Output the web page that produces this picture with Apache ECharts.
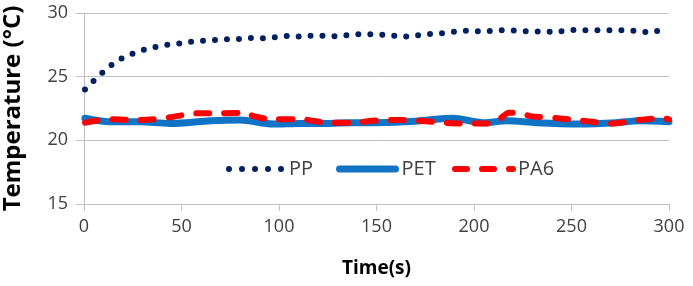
<!DOCTYPE html>
<html>
<head>
<meta charset="utf-8">
<script src="https://cdn.jsdelivr.net/npm/echarts@6/dist/echarts.min.js"></script>
<style>
  html, body { margin: 0; padding: 0; background: #fff; }
  #chart { width: 693px; height: 286px; }
</style>
</head>
<body>
<div id="chart"></div>
<script>
// time (s) / temperature (°C)
const ppTime = [0.5, 5, 10, 15, 20, 26, 32, 37, 44, 50, 56, 62, 68, 75, 81, 87, 94, 100, 106, 112, 118, 124, 130, 136, 143, 149, 155, 162, 168, 174, 180, 186, 192, 198, 205, 211, 218, 224, 230, 236, 242, 248, 255, 261, 267, 274, 280, 286, 292, 296];
const ppTemp = [24.0, 24.68, 25.39, 26.02, 26.49, 26.88, 27.17, 27.35, 27.54, 27.62, 27.78, 27.83, 27.88, 27.96, 27.96, 28.06, 28.01, 28.14, 28.22, 28.11, 28.25, 28.19, 28.16, 28.27, 28.37, 28.32, 28.27, 28.16, 28.16, 28.32, 28.37, 28.45, 28.56, 28.62, 28.53, 28.64, 28.64, 28.59, 28.53, 28.56, 28.48, 28.66, 28.66, 28.64, 28.64, 28.64, 28.64, 28.53, 28.48, 28.69];

const petTime = [0.5, 13, 29, 44, 65, 80, 97, 111, 125, 136, 148, 164, 177, 189, 205, 217, 232, 254, 273, 285, 300];
const petTemp = [21.73, 21.46, 21.45, 21.33, 21.54, 21.6, 21.28, 21.33, 21.33, 21.38, 21.38, 21.45, 21.6, 21.73, 21.38, 21.54, 21.38, 21.28, 21.38, 21.54, 21.46];

const pa6Time = [0.5, 13, 29, 44, 58, 71, 83, 87, 97, 111, 125, 138, 148, 164, 179, 191, 207, 212, 218, 222, 229, 243, 256, 271, 285, 297, 300];
const pa6Temp = [21.38, 21.65, 21.6, 21.81, 22.12, 22.12, 22.17, 21.9, 21.65, 21.65, 21.38, 21.38, 21.54, 21.6, 21.46, 21.33, 21.33, 21.54, 22.17, 22.17, 21.9, 21.73, 21.54, 21.33, 21.6, 21.73, 21.65];

const pairs = (xs, ys) => xs.map((x, i) => [x, ys[i]]);

const chart = echarts.init(document.getElementById("chart"));

const font = "'Open Sans', 'Liberation Sans', sans-serif";
const gridGray = "#bfbfbf";

const ppLine = { color: "#002060", width: 6, type: [0, 12], cap: "round" };
const petLine = { color: "#0f73c6", width: 7, cap: "round" };
const pa6Line = { color: "#ff0000", width: 6, type: [13, 15], cap: "round" };

// one legend per entry so each can sit where the original has it
const legendItem = (name, line, left, width, pad) => ({
  data: [{ name: name, lineStyle: line, itemStyle: { opacity: 0 } }],
  left: left,
  top: 154,
  itemWidth: width,
  itemHeight: 14,
  textStyle: { fontFamily: font, fontSize: 20, color: "#404040", padding: [0, 0, 0, pad] },
});

const option = {
  animation: false,
  grid: { left: 84, right: 24, top: 13, bottom: 82, containLabel: false, outerBoundsMode: "none" },
  legend: [
    legendItem("PP", { ...ppLine, type: [0, 13] }, 221, 53, 2),
    legendItem("PET", petLine, 331, 56, 1),
    legendItem("PA6", { ...pa6Line, type: [12, 15] }, 447, 58, 0),
  ],
  xAxis: {
    type: "value",
    min: 0,
    max: 300,
    interval: 50,
    name: "Time(s)",
    nameLocation: "middle",
    nameGap: 55,
    nameTextStyle: { fontFamily: font, fontSize: 19, fontWeight: "bold", color: "#000" },
    axisLine: { show: true, lineStyle: { color: gridGray } },
    axisTick: { show: true, length: 7, lineStyle: { color: gridGray } },
    axisLabel: { margin: 14, fontFamily: font, fontSize: 18, color: "#404040" },
    splitLine: { show: false },
  },
  yAxis: {
    type: "value",
    min: 15,
    max: 30,
    interval: 5,
    name: "Temperature (°C)",
    nameLocation: "middle",
    nameGap: 59,
    nameTextStyle: { fontFamily: font, fontSize: 24, fontWeight: "bold", color: "#000" },
    axisLine: { show: true, lineStyle: { color: gridGray } },
    axisTick: { show: true, length: 8, lineStyle: { color: gridGray } },
    axisLabel: { margin: 16, fontFamily: font, fontSize: 18, color: "#404040" },
    splitLine: { show: true, lineStyle: { color: gridGray } },
  },
  series: [
    {
      name: "PP",
      type: "line",
      symbol: "none",
      data: pairs(ppTime, ppTemp),
      lineStyle: ppLine,
      itemStyle: { color: ppLine.color },
      z: 3,
    },
    {
      name: "PET",
      type: "line",
      symbol: "none",
      smooth: 0.3,
      data: pairs(petTime, petTemp),
      lineStyle: petLine,
      itemStyle: { color: petLine.color },
      z: 2,
    },
    {
      name: "PA6",
      type: "line",
      symbol: "none",
      smooth: 0.3,
      data: pairs(pa6Time, pa6Temp),
      lineStyle: pa6Line,
      itemStyle: { color: pa6Line.color },
      z: 4,
    },
  ],
};

chart.setOption(option);
</script>
</body>
</html>
